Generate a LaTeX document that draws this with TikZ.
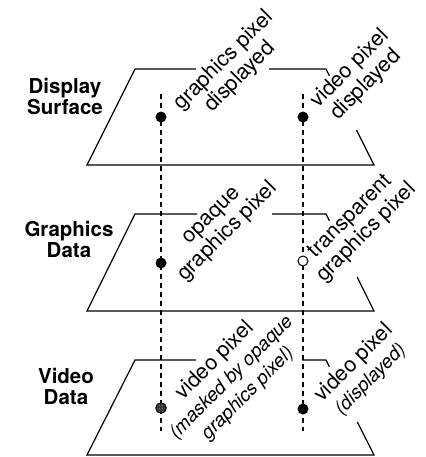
\documentclass[tikz,border=0pt]{standalone}
\usepackage{fontspec}
\setmainfont{TeX Gyre Heros}
\usetikzlibrary{calc,patterns}
\newcommand\pixnote{\itshape\fontsize{19}{23}\selectfont}
\tikzset{
  edge/.style={line width=1.2pt, line join=miter},
  guide/.style={line width=1.1pt, dash pattern=on 5pt off 4pt},
  layername/.style={inner sep=0pt, align=center, font=\bfseries\fontsize{20.5}{21}\selectfont},
  pixlabel/.style={inner sep=0pt, align=center, rotate=45, font=\fontsize{21.5}{23}\selectfont},
  soliddot/.style={circle, inner sep=0pt, minimum size=11pt, fill=black},
  opendot/.style={circle, inner sep=0pt, minimum size=10pt, draw=black, line width=1pt, fill=white},
  maskeddot/.style={circle, inner sep=0pt, minimum size=10.5pt, draw=black, line width=1pt,
    preaction={fill=black!80}, pattern=dots, pattern color=white!85!black}
}
\begin{document}
\begin{tikzpicture}[x=1pt,y=1pt]
\useasboundingbox (0,0) rectangle (425,-457);

% three stacked layers (trapezoids), broken where the labels cross them
\foreach \T/\B/\ga/\gb/\R in {69/165/196/269/130, 214/311/197/272/277, 360/455/196/302/422}{
  \draw[edge] (\gb,-\T) -- (326,-\T) -- ($(326,-\T)!0.07!(374,-\B)$);
  \draw[edge] ($(326,-\T)!{(\R-\T)/(\B-\T)}!(374,-\B)$) -- (374,-\B) -- (87,-\B) -- (135,-\T) -- (\ga,-\T);
}

% layer names
\node[layername] (ds) at (65,-96) {Display\\Surface};
\node[layername] (gd) at (69,-239) {Graphics\\Data};
\node[layername] (vd) at (66,-386) {Video\\Data};

% vertical sight lines through the two pixel positions
\coordinate (ltop) at (161,-94);
\coordinate (lbot) at (161,-431);
\coordinate (rtop) at (303,-94);
\coordinate (rbot) at (303,-431);
\draw[guide] (ltop) -- (lbot);
\draw[guide] (rtop) -- (rbot);

% pixels
\node[soliddot] (d1) at (161,-117) {};
\node[soliddot] (d2) at (303,-117) {};
\node[soliddot] (g1) at (161,-263) {};
\node[opendot]  (g2) at (303,-261) {};
\node[maskeddot] (v1) at (161,-408) {};
\node[soliddot] (v2) at (303,-409) {};

% pixel labels
\node[pixlabel] (t1) at (232,-69) {graphics pixel\\displayed};
\node[pixlabel] (t2) at (358,-77) {video pixel\\displayed};
\node[pixlabel] (t3) at (221,-225) {opaque\\graphics pixel};
\node[pixlabel] (t4) at (359,-225) {transparent\\graphics pixel};
\node[pixlabel] (t5) at (231,-377) {video pixel\\{\pixnote (masked by opaque}\\{\pixnote graphics pixel)}};
\node[pixlabel] (t6) at (362,-371) {video pixel\\{\pixnote (displayed)}};
\end{tikzpicture}
\end{document}
